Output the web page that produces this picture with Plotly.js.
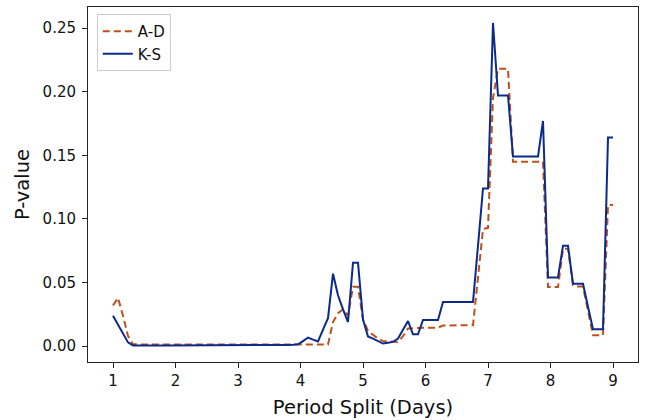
<!DOCTYPE html>
<html>
<head>
<meta charset="utf-8">
<script src="https://cdn.plot.ly/plotly-3.0.1.min.js"></script>
<style>html,body{margin:0;padding:0;background:#fff;}#chart{width:646px;height:420px;}</style>
</head>
<body>
<div id="chart"></div>
<script>
const periodSplit = [
  1.00,1.08,1.16,1.24,1.32,1.40,1.48,1.56,1.64,1.72,
  1.80,1.88,1.96,2.04,2.12,2.20,2.28,2.36,2.44,2.52,
  2.60,2.68,2.76,2.84,2.92,3.00,3.08,3.16,3.24,3.32,
  3.40,3.48,3.56,3.64,3.72,3.80,3.88,3.96,4.04,4.12,
  4.20,4.28,4.36,4.44,4.52,4.60,4.68,4.76,4.84,4.92,
  5.00,5.08,5.16,5.24,5.32,5.40,5.48,5.56,5.64,5.72,
  5.80,5.88,5.96,6.04,6.12,6.20,6.28,6.36,6.44,6.52,
  6.60,6.68,6.76,6.84,6.92,7.00,7.08,7.16,7.24,7.32,
  7.40,7.48,7.56,7.64,7.72,7.80,7.88,7.96,8.04,8.12,
  8.20,8.28,8.36,8.44,8.52,8.60,8.68,8.76,8.84,8.92,
  9.00
];
const adValues = [
  0.032,0.038,0.024,0.008,0.0016,0.0013,0.0013,0.0013,0.0013,0.0013,
  0.0013,0.0013,0.0013,0.0013,0.0013,0.0013,0.0013,0.0013,0.0013,0.0013,
  0.0013,0.0013,0.0013,0.0013,0.0013,0.0013,0.0013,0.0013,0.0013,0.0013,
  0.0013,0.0013,0.0013,0.0013,0.0013,0.0013,0.0013,0.0013,0.0013,0.0013,
  0.0013,0.0013,0.0013,0.0013,0.019,0.026,0.029,0.024,0.0468,0.0468,
  0.021,0.012,0.009,0.006,0.004,0.0036,0.0034,0.0034,0.008,0.0139,
  0.0142,0.0146,0.0146,0.0146,0.0146,0.0146,0.0163,0.0163,0.0163,0.0164,
  0.0164,0.0165,0.0165,0.054,0.092,0.093,0.195,0.218,0.218,0.218,
  0.145,0.145,0.145,0.145,0.145,0.145,0.145,0.0465,0.0465,0.0465,
  0.0766,0.0766,0.048,0.047,0.047,0.028,0.0086,0.0086,0.0086,0.111,
  0.111
];
const ksValues = [
  0.024,0.017,0.010,0.003,0.0006,0.0005,0.0005,0.0005,0.0005,0.0005,
  0.0005,0.0005,0.0005,0.0005,0.0005,0.0005,0.0005,0.0005,0.0005,0.0005,
  0.0005,0.0005,0.0005,0.0005,0.0005,0.0005,0.0005,0.0005,0.0005,0.0005,
  0.0005,0.0005,0.0005,0.0006,0.0008,0.0010,0.0012,0.0015,0.004,0.0068,
  0.0052,0.0037,0.013,0.022,0.057,0.040,0.029,0.019,0.0656,0.0656,
  0.021,0.0076,0.006,0.0042,0.0021,0.0028,0.0034,0.006,0.013,0.0198,
  0.0094,0.0094,0.0206,0.0206,0.0206,0.0206,0.0347,0.0347,0.0347,0.0347,
  0.0347,0.0347,0.0347,0.079,0.124,0.124,0.254,0.197,0.197,0.197,
  0.149,0.149,0.149,0.149,0.149,0.149,0.177,0.054,0.054,0.054,
  0.079,0.079,0.049,0.049,0.049,0.031,0.0133,0.0133,0.0133,0.164,
  0.164
];
const seriesNames = ["A-D", "K-S"];
const xTicks = [1,2,3,4,5,6,7,8,9];
const yTicks = [0.00,0.05,0.10,0.15,0.20,0.25];
const yTickLabels = ["0.00","0.05","0.10","0.15","0.20","0.25"];

const font = "DejaVu Sans, sans-serif";
const traces = [
  {x: periodSplit, y: adValues, name: seriesNames[0], mode: "lines",
   line: {color: "#c0501a", width: 2, dash: "7px,4px"}},
  {x: periodSplit, y: ksValues, name: seriesNames[1], mode: "lines",
   line: {color: "#0b2a8c", width: 2}}
];
const axisCommon = {
  showgrid: false, zeroline: false, showline: true, mirror: true,
  linecolor: "#222", linewidth: 1, ticks: "outside", ticklen: 5,
  tickwidth: 1, tickcolor: "#222", automargin: false,
  tickfont: {family: font, size: 15, color: "#111"}
};
const layout = {
  width: 646, height: 420,
  margin: {l: 88, r: 8, t: 7, b: 58},
  paper_bgcolor: "#fff", plot_bgcolor: "#fff",
  showlegend: true,
  legend: {x: 0.016, y: 0.98, xanchor: "left", yanchor: "top",
    bgcolor: "#fff", bordercolor: "#ccc", borderwidth: 1,
    font: {family: font, size: 15, color: "#111"}},
  xaxis: Object.assign({}, axisCommon, {
    range: [0.6, 9.4], tickvals: xTicks,
    title: {text: "Period Split (Days)", font: {family: font, size: 19.5, color: "#111"}, standoff: 11}
  }),
  yaxis: Object.assign({}, axisCommon, {
    range: [-0.0124, 0.2665], tickvals: yTicks, ticktext: yTickLabels,
    ticklabelstandoff: 3,
    title: {text: "P-value", font: {family: font, size: 19.5, color: "#111"}, standoff: 7}
  })
};
Plotly.newPlot("chart", traces, layout, {displayModeBar: false, staticPlot: true});
</script>
</body>
</html>
